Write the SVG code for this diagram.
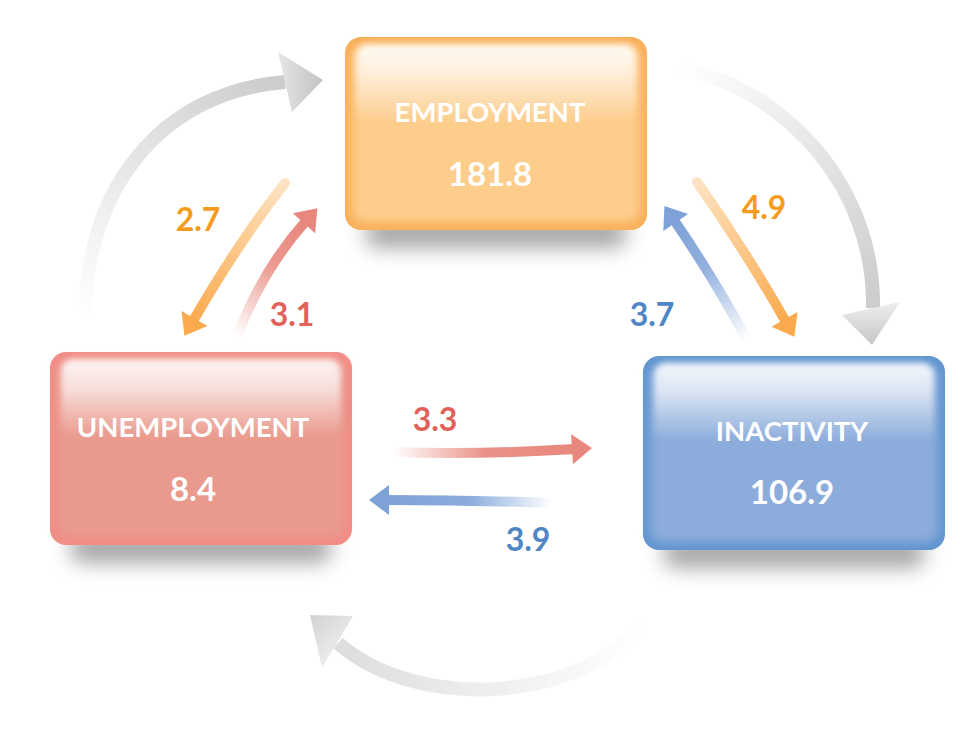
<svg xmlns="http://www.w3.org/2000/svg" width="980" height="750" viewBox="0 0 980 750">
<style>
.title{font-family:Lato,"Open Sans","Liberation Sans",sans-serif;font-weight:bold;font-size:27.5px;fill:#ffffff;text-anchor:middle}
.num{font-family:Lato,"Open Sans","Liberation Sans",sans-serif;font-weight:bold;font-size:33px;fill:#ffffff;text-anchor:middle}
.lbl{font-family:Lato,"Open Sans","Liberation Sans",sans-serif;font-weight:bold;font-size:32px;text-anchor:middle}
.or{fill:#F59C1E}.rd{fill:#E0625B}.bl{fill:#4F86C6}
.shaft{fill:none;stroke-width:10;stroke-linecap:round}
.gshaft{fill:none;stroke-width:14;stroke-linecap:butt}
</style>
<defs>
<filter id="shadow" x="-30%" y="-100%" width="160%" height="300%"><feGaussianBlur stdDeviation="10"/></filter>
<filter id="soft" x="-10%" y="-10%" width="120%" height="120%"><feGaussianBlur stdDeviation="5"/></filter>
<filter id="hblur" x="-10%" y="-20%" width="120%" height="140%"><feGaussianBlur stdDeviation="3"/></filter>
<linearGradient id="hl" x1="0" y1="0" x2="0" y2="1">
<stop offset="0" stop-color="#fff" stop-opacity="0.9"/>
<stop offset="0.35" stop-color="#fff" stop-opacity="0.7"/>
<stop offset="1" stop-color="#fff" stop-opacity="0"/>
</linearGradient>
<marker id="mo" markerUnits="userSpaceOnUse" markerWidth="24" markerHeight="30" viewBox="0 0 20 30" refX="3" refY="15" orient="auto"><path d="M0,0 L20,15 L0,30 Z" fill="#FAAA4D"/></marker>
<marker id="mr" markerUnits="userSpaceOnUse" markerWidth="24" markerHeight="30" viewBox="0 0 20 30" refX="3" refY="15" orient="auto"><path d="M0,0 L20,15 L0,30 Z" fill="#E8877C"/></marker>
<marker id="mb" markerUnits="userSpaceOnUse" markerWidth="24" markerHeight="30" viewBox="0 0 20 30" refX="3" refY="15" orient="auto"><path d="M0,0 L20,15 L0,30 Z" fill="#7EA2D8"/></marker>
<linearGradient id="g27" gradientUnits="userSpaceOnUse" x1="285" y1="183" x2="193" y2="321"><stop offset="0" stop-color="#FDE3C2"/><stop offset="1" stop-color="#FAAA4D"/></linearGradient>
<linearGradient id="g49" gradientUnits="userSpaceOnUse" x1="697" y1="182" x2="786" y2="322"><stop offset="0" stop-color="#FDE3C2"/><stop offset="1" stop-color="#FAAA4D"/></linearGradient>
<linearGradient id="g31" gradientUnits="userSpaceOnUse" x1="237" y1="337" x2="306" y2="221"><stop offset="0" stop-color="#E8877C" stop-opacity="0"/><stop offset="0.6" stop-color="#E8877C" stop-opacity="0.85"/><stop offset="1" stop-color="#E8877C"/></linearGradient>
<linearGradient id="g33" gradientUnits="userSpaceOnUse" x1="393" y1="452" x2="575" y2="449"><stop offset="0" stop-color="#E8877C" stop-opacity="0"/><stop offset="0.5" stop-color="#E8877C" stop-opacity="0.9"/><stop offset="1" stop-color="#E8877C"/></linearGradient>
<linearGradient id="g37" gradientUnits="userSpaceOnUse" x1="747" y1="340" x2="674" y2="220"><stop offset="0" stop-color="#7EA2D8" stop-opacity="0"/><stop offset="0.6" stop-color="#7EA2D8" stop-opacity="0.85"/><stop offset="1" stop-color="#7EA2D8"/></linearGradient>
<linearGradient id="g39" gradientUnits="userSpaceOnUse" x1="552" y1="503" x2="386" y2="500"><stop offset="0" stop-color="#7EA2D8" stop-opacity="0"/><stop offset="0.5" stop-color="#7EA2D8" stop-opacity="0.9"/><stop offset="1" stop-color="#7EA2D8"/></linearGradient>
<linearGradient id="gtl" gradientUnits="userSpaceOnUse" x1="85" y1="318" x2="285" y2="82"><stop offset="0" stop-color="#cccccc" stop-opacity="0"/><stop offset="1" stop-color="#cccccc"/></linearGradient>
<linearGradient id="gtr" gradientUnits="userSpaceOnUse" x1="677" y1="67" x2="873" y2="308"><stop offset="0" stop-color="#cccccc" stop-opacity="0"/><stop offset="1" stop-color="#cccccc"/></linearGradient>
<linearGradient id="gbt" gradientUnits="userSpaceOnUse" x1="643" y1="620" x2="338" y2="643"><stop offset="0" stop-color="#e2e2e2" stop-opacity="0"/><stop offset="1" stop-color="#dddddd"/></linearGradient>
<linearGradient id="htl" gradientUnits="userSpaceOnUse" x1="278" y1="80" x2="323" y2="80"><stop offset="0" stop-color="#e6e6e6"/><stop offset="1" stop-color="#c2c2c2"/></linearGradient>
<linearGradient id="htr" gradientUnits="userSpaceOnUse" x1="872" y1="300" x2="872" y2="345"><stop offset="0" stop-color="#f0f0f0"/><stop offset="1" stop-color="#c6c6c6"/></linearGradient>
<linearGradient id="hbt" gradientUnits="userSpaceOnUse" x1="310" y1="615" x2="350" y2="660"><stop offset="0" stop-color="#d2d2d2"/><stop offset="1" stop-color="#f4f4f4"/></linearGradient>
</defs>

<g id="connectors">
<path class="gshaft" d="M85,318 C85,190 160,92 285,82" stroke="url(#gtl)"/>
<polygon points="278,52 323,80 292,112" fill="url(#htl)"/>
<path class="gshaft" d="M677,67 C790,90 875,190 873,308" stroke="url(#gtr)"/>
<polygon points="842,315 900,302 872,345" fill="url(#htr)"/>
<path class="gshaft" d="M643,620 C590,700 420,715 338,643" stroke="url(#gbt)" stroke-width="13"/>
<polygon points="310,615 353,616 322,668" fill="url(#hbt)"/>

<path class="shaft" d="M285,183 Q240,240 193,321" stroke="url(#g27)" marker-end="url(#mo)"/>
<path class="shaft" d="M237,337 Q262,270 306,221" stroke="url(#g31)" marker-end="url(#mr)"/>
<path class="shaft" d="M697,182 Q745,250 786,322" stroke="url(#g49)" marker-end="url(#mo)"/>
<path class="shaft" d="M747,340 Q715,280 674,220" stroke="url(#g37)" marker-end="url(#mb)"/>
<path class="shaft" d="M393,452 Q480,455 575,449" stroke="url(#g33)" marker-end="url(#mr)"/>
<path class="shaft" d="M552,503 Q470,500 386,500" stroke="url(#g39)" marker-end="url(#mb)"/>

<text class="lbl or" x="198" y="231">2.7</text>
<text class="lbl rd" x="292" y="326">3.1</text>
<text class="lbl or" x="764" y="219">4.9</text>
<text class="lbl bl" x="652" y="326">3.7</text>
<text class="lbl rd" x="435" y="431">3.3</text>
<text class="lbl bl" x="528" y="551">3.9</text>
</g>

<g id="employment">
<rect x="365" y="218" width="262" height="30" rx="14" fill="#777" opacity="0.65" filter="url(#shadow)"/>
<rect x="345" y="37" width="302" height="193" rx="16" fill="#F9AF58"/>
<rect x="352" y="46" width="288" height="176" rx="12" fill="#FDCD8C" filter="url(#soft)"/>
<rect x="356" y="44" width="280" height="78" rx="12" fill="url(#hl)" filter="url(#hblur)"/>
<text class="title" x="490" y="122">EMPLOYMENT</text>
<text class="num" x="490" y="186">181.8</text>
</g>

<g id="unemployment">
<rect x="70" y="533" width="262" height="30" rx="14" fill="#777" opacity="0.65" filter="url(#shadow)"/>
<rect x="50" y="352" width="302" height="193" rx="16" fill="#F18D86"/>
<rect x="57" y="361" width="288" height="176" rx="12" fill="#E99A8D" filter="url(#soft)"/>
<rect x="61" y="359" width="280" height="78" rx="12" fill="url(#hl)" filter="url(#hblur)"/>
<text class="title" x="193" y="437">UNEMPLOYMENT</text>
<text class="num" x="193" y="501">8.4</text>
</g>

<g id="inactivity">
<rect x="663" y="538" width="262" height="30" rx="14" fill="#777" opacity="0.65" filter="url(#shadow)"/>
<rect x="643" y="356" width="302" height="194" rx="16" fill="#6195CF"/>
<rect x="650" y="365" width="288" height="177" rx="12" fill="#8CACDB" filter="url(#soft)"/>
<rect x="654" y="363" width="280" height="78" rx="12" fill="url(#hl)" filter="url(#hblur)"/>
<text class="title" x="792" y="441">INACTIVITY</text>
<text class="num" x="792" y="504">106.9</text>
</g>
</svg>
